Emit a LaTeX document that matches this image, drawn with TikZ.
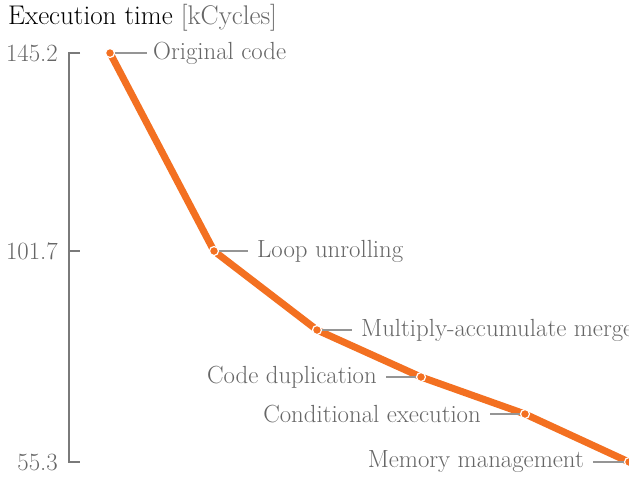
\documentclass[tikz,border=0pt]{standalone}
\usetikzlibrary{positioning}

\definecolor{curve}{HTML}{F37021}
\definecolor{txtgray}{HTML}{666666}
\definecolor{axgray}{HTML}{7A7A7A}

\tikzset{
    lbl/.style={text=txtgray, inner sep=0pt, font=\fontsize{24.8}{29}\selectfont},
    lead/.style={draw=axgray!80, line width=1.3pt},
    dot/.style={circle, fill=curve, draw=white, line width=1.2pt, minimum size=9pt, inner sep=0pt},
}

\begin{document}
\begin{tikzpicture}[x=1pt, y=-1pt]
    \useasboundingbox (0, 0) rectangle (629, 477);
    \clip (0, 0) rectangle (629, 477);

    % title
    \node [anchor=base west, inner sep=0pt, font=\fontsize{27}{32}\selectfont] (title) at (8, 24.5)
        {Execution time \textcolor{txtgray}{[kCycles]}};

    % axis
    \coordinate (ytop) at (69, 53);
    \coordinate (ybot) at (69, 462);
    \draw [axgray, line width=1.3pt] ([xshift=11pt]ytop) -- (ytop) -- (ybot) -- ([xshift=11pt]ybot);
    \draw [axgray, line width=1.3pt] (69, 251) -- (80, 251);

    \node [lbl, anchor=east] (t1) at (58, 53) {145.2};
    \node [lbl, anchor=east] (t2) at (58, 251) {101.7};
    \node [lbl, anchor=east] (t3) at (58, 462) {55.3};

    % data points
    \coordinate (p1) at (110, 53);
    \coordinate (p2) at (214, 251);
    \coordinate (p3) at (317, 330);
    \coordinate (p4) at (421, 377);
    \coordinate (p5) at (525, 414);
    \coordinate (p6) at (629, 462);

    \draw [curve, line width=7pt, line join=round]
        (p1) -- (p2) -- (p3) -- (p4) -- (p5) -- (p6);

    % labels
    \node [lbl, anchor=west] (l1) at ([xshift=43pt]p1) {Original code};
    \node [lbl, anchor=west] (l2) at ([xshift=43pt]p2) {Loop unrolling};
    \node [lbl, anchor=west] (l3) at ([xshift=44pt]p3) {Multiply-accumulate merge};
    \node [lbl, anchor=east] (l4) at ([xshift=-44pt]p4) {Code duplication};
    \node [lbl, anchor=east] (l5) at ([xshift=-44pt]p5) {Conditional execution};
    \node [lbl, anchor=east] (l6) at ([xshift=-45pt]p6) {Memory management};

    \draw [lead] (p1) -- ([xshift=-6pt]l1.west);
    \draw [lead] (p2) -- ([xshift=-9pt]l2.west);
    \draw [lead] (p3) -- ([xshift=-9pt]l3.west);
    \draw [lead] (p4) -- ([xshift=9pt]l4.east);
    \draw [lead] (p5) -- ([xshift=9pt]l5.east);
    \draw [lead] (p6) -- ([xshift=9pt]l6.east);

    \foreach \p in {p1, p2, p3, p4, p5, p6}
        \node [dot] at (\p) {};
\end{tikzpicture}
\end{document}
